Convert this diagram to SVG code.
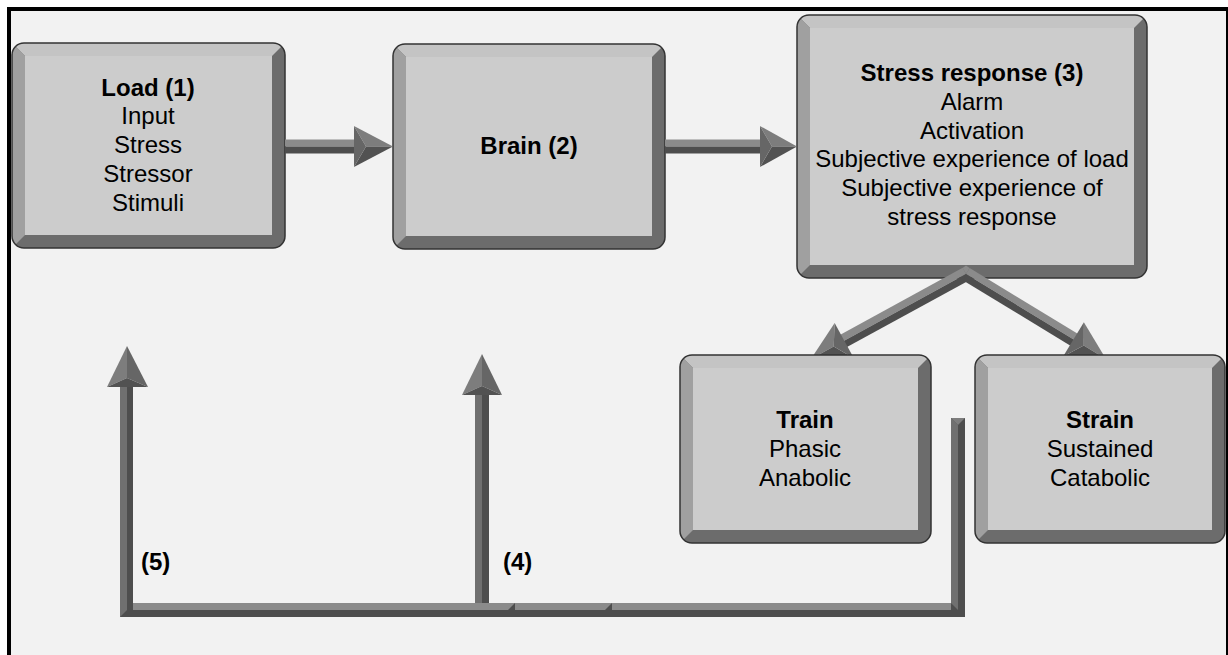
<svg xmlns="http://www.w3.org/2000/svg" width="1228" height="655" viewBox="0 0 1228 655">
<style>
.t{font-family:"Liberation Sans",Arial,sans-serif;font-size:24px;fill:#000;text-anchor:middle}
.b{font-weight:bold}
.lb{font-family:"Liberation Sans",Arial,sans-serif;font-size:24px;font-weight:bold;fill:#000}
.base{fill:#6c6c6c}
.top{fill:#c4c4c4}
.left{fill:#a0a0a0}
.face{fill:#cccccc}
.outline{fill:none;stroke:#333;stroke-width:1.5}
.sl{fill:#8b8b8b}
.sd{fill:#4e4e4e}
.vl{fill:#707070}
.hl{fill:#7d7d7d}
.hm{fill:#666666}
.hd{fill:#525252}
</style>
<defs>
<clipPath id="cl-load"><rect x="12" y="43" width="273" height="205" rx="12"/></clipPath>
<clipPath id="cl-brain"><rect x="393" y="44" width="272" height="205" rx="12"/></clipPath>
<clipPath id="cl-stress"><rect x="797" y="15" width="350" height="263" rx="12"/></clipPath>
<clipPath id="cl-train"><rect x="680" y="355" width="251" height="188" rx="12"/></clipPath>
<clipPath id="cl-strain"><rect x="975" y="355" width="250" height="188" rx="12"/></clipPath>
</defs>
<rect x="0" y="0" width="1228" height="655" fill="#ffffff"/>
<rect x="9" y="9" width="1219" height="700" fill="#f2f2f2" stroke="#000" stroke-width="4"/>

<g id="load">
 <g clip-path="url(#cl-load)">
  <rect class="base" x="12" y="43" width="273" height="205"/>
  <polygon class="top" points="12,43 285,43 272,56 25,56"/>
  <polygon class="left" points="12,43 25,56 25,235 12,248"/>
  <rect class="face" x="25" y="56" width="247" height="179"/>
 </g>
 <rect class="outline" x="12" y="43" width="273" height="205" rx="12"/>
 <text class="t b" x="148" y="96">Load (1)</text>
 <text class="t" x="148" y="124">Input</text>
 <text class="t" x="148" y="153">Stress</text>
 <text class="t" x="148" y="182">Stressor</text>
 <text class="t" x="148" y="211">Stimuli</text>
</g>

<g id="brain">
 <g clip-path="url(#cl-brain)">
  <rect class="base" x="393" y="44" width="272" height="205"/>
  <polygon class="top" points="393,44 665,44 652,57 406,57"/>
  <polygon class="left" points="393,44 406,57 406,236 393,249"/>
  <rect class="face" x="406" y="57" width="246" height="179"/>
 </g>
 <rect class="outline" x="393" y="44" width="272" height="205" rx="12"/>
 <text class="t b" x="529" y="154">Brain (2)</text>
</g>

<g id="stress-response">
 <g clip-path="url(#cl-stress)">
  <rect class="base" x="797" y="15" width="350" height="263"/>
  <polygon class="top" points="797,15 1147,15 1134,28 810,28"/>
  <polygon class="left" points="797,15 810,28 810,265 797,278"/>
  <rect class="face" x="810" y="28" width="324" height="237"/>
 </g>
 <rect class="outline" x="797" y="15" width="350" height="263" rx="12"/>
 <text class="t b" x="972" y="81">Stress response (3)</text>
 <text class="t" x="972" y="110">Alarm</text>
 <text class="t" x="972" y="139">Activation</text>
 <text class="t" x="972" y="167">Subjective experience of load</text>
 <text class="t" x="972" y="196">Subjective experience of</text>
 <text class="t" x="972" y="225">stress response</text>
</g>

<g id="connectors">
 <!-- Load -> Brain -->
 <rect class="sl" x="285" y="139.5" width="71" height="7"/>
 <rect class="sd" x="285" y="146.5" width="71" height="7"/>
 <polygon class="hl" points="354,126 393,146.5 366,146.5"/>
 <polygon class="hd" points="354,167 393,146.5 366,146.5"/>
 <polygon class="hm" points="354,126 366,146.5 354,167"/>
 <!-- Brain -> Stress -->
 <rect class="sl" x="665" y="139.5" width="97" height="7"/>
 <rect class="sd" x="665" y="146.5" width="97" height="7"/>
 <polygon class="hl" points="760,126 797,146.5 772,146.5"/>
 <polygon class="hd" points="760,167 797,146.5 772,146.5"/>
 <polygon class="hm" points="760,126 772,146.5 760,167"/>
 <!-- Stress -> Train -->
 <g transform="translate(966,274) rotate(151.3)">
  <rect class="sl" x="0" y="0" width="140" height="7"/>
  <rect class="sd" x="0" y="-7" width="140" height="7"/>
  <polygon class="hl" points="138.8,20 176.8,0 150.8,0"/>
  <polygon class="hd" points="138.8,-20 176.8,0 150.8,0"/>
  <polygon class="hm" points="138.8,20 150.8,0 138.8,-20"/>
 </g>
 <!-- Stress -> Strain -->
 <g transform="translate(966,274) rotate(31.3)">
  <rect class="sl" x="0" y="-7" width="127" height="7"/>
  <rect class="sd" x="0" y="0" width="127" height="7"/>
  <polygon class="hl" points="125.8,-20 163.8,0 137.8,0"/>
  <polygon class="hd" points="125.8,20 163.8,0 137.8,0"/>
  <polygon class="hm" points="125.8,-20 137.8,0 125.8,20"/>
 </g>
 <polygon class="sl" points="962.6,267.9 966,265.5 969.6,268 966,274"/>
 <!-- feedback loop bar -->
 <rect class="sd" x="120" y="603" width="845" height="14"/>
 <polygon class="sl" points="127,610 133,603 951,603 958,610"/>
 <polygon class="sd" points="508,610 515,603 515,610"/>
 <polygon class="sd" points="605,610 612,603 612,610"/>
 <!-- right riser from Strain side -->
 <rect class="sd" x="951" y="418" width="14" height="199"/>
 <polygon class="vl" points="951,418 958,425 958,610 951,603"/>
 <polygon class="hl" points="951,418 965,418 958,425"/>
 <!-- (5) arrow up to Load -->
 <rect class="sd" x="120" y="385" width="13" height="232"/>
 <polygon class="vl" points="120,385 127,385 127,610 120,617"/>
 <polygon class="hl" points="107,387 127,346 127,378"/>
 <polygon class="hm" points="148,387 127,346 127,378"/>
 <polygon class="hd" points="107,387 127,378 148,387"/>
 <!-- (4) arrow up to Brain -->
 <rect class="sd" x="475" y="393" width="14" height="210"/>
 <polygon class="vl" points="475,393 482,393 482,603 475,603"/>
 <polygon class="hl" points="462,395 482,354 482,386"/>
 <polygon class="hm" points="502,395 482,354 482,386"/>
 <polygon class="hd" points="462,395 482,386 502,395"/>
 <text class="lb" x="141" y="570">(5)</text>
 <text class="lb" x="503" y="570">(4)</text>
</g>

<g id="train">
 <g clip-path="url(#cl-train)">
  <rect class="base" x="680" y="355" width="251" height="188"/>
  <polygon class="top" points="680,355 931,355 918,368 693,368"/>
  <polygon class="left" points="680,355 693,368 693,530 680,543"/>
  <rect class="face" x="693" y="368" width="225" height="162"/>
 </g>
 <rect class="outline" x="680" y="355" width="251" height="188" rx="12"/>
 <text class="t b" x="805" y="428">Train</text>
 <text class="t" x="805" y="457">Phasic</text>
 <text class="t" x="805" y="486">Anabolic</text>
</g>

<g id="strain">
 <g clip-path="url(#cl-strain)">
  <rect class="base" x="975" y="355" width="250" height="188"/>
  <polygon class="top" points="975,355 1225,355 1212,368 988,368"/>
  <polygon class="left" points="975,355 988,368 988,530 975,543"/>
  <rect class="face" x="988" y="368" width="224" height="162"/>
 </g>
 <rect class="outline" x="975" y="355" width="250" height="188" rx="12"/>
 <text class="t b" x="1100" y="428">Strain</text>
 <text class="t" x="1100" y="457">Sustained</text>
 <text class="t" x="1100" y="486">Catabolic</text>
</g>
</svg>
